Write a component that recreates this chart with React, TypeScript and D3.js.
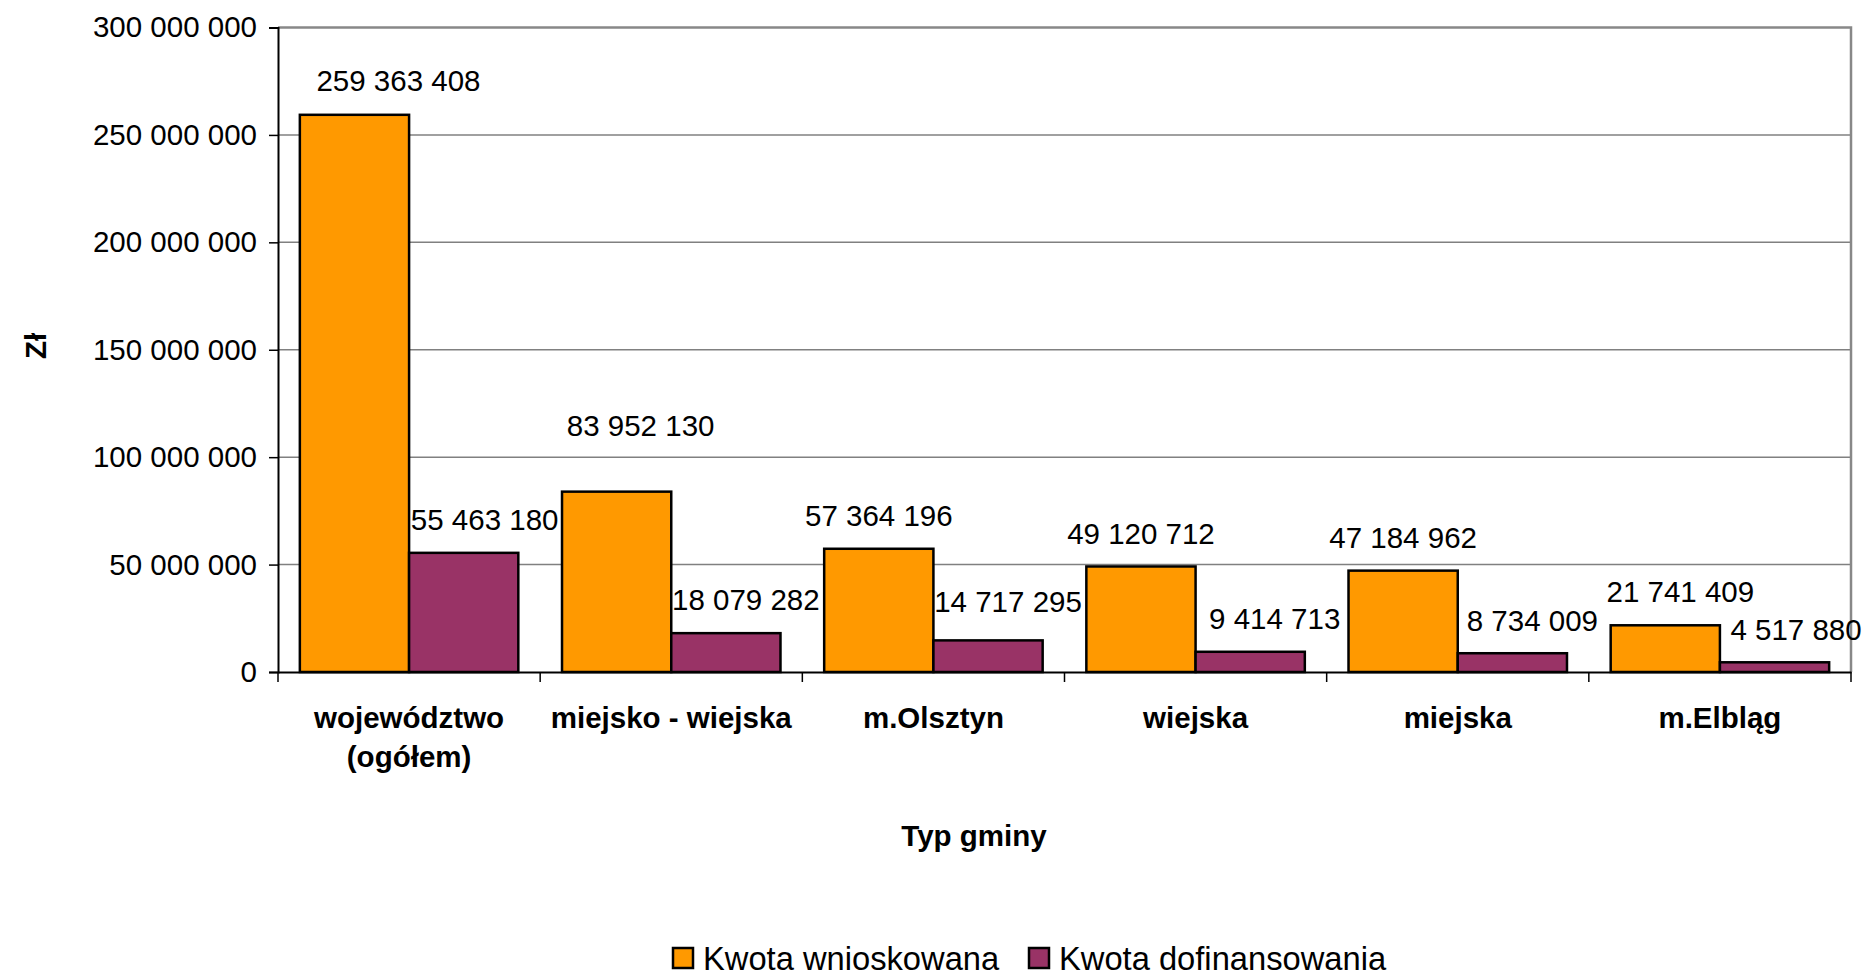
import React, { useEffect, useRef } from 'react';
import * as d3 from 'd3';

const categories = ['województwo\n(ogółem)', 'miejsko - wiejska', 'm.Olsztyn', 'wiejska', 'miejska', 'm.Elbląg'];
const requested = [259363408, 83952130, 57364196, 49120712, 47184962, 21741409];
const granted = [55463180, 18079282, 14717295, 9414713, 8734009, 4517880];
const seriesNames = ['Kwota wnioskowana', 'Kwota dofinansowania'];
const yTicks = [0, 50000000, 100000000, 150000000, 200000000, 250000000, 300000000];

// hand-moved labels in the original chart (dx, dy in px), key = category-series
const labelNudge: Record<string, [number, number]> = {
  '0-0': [44, -1],
  '1-0': [24, -33],
  '5-0': [15, -1],
  '0-1': [21, 0],
  '1-1': [20, -1],
  '2-1': [20, -6],
  '3-1': [24.5, 0],
  '4-1': [20, 0],
  '5-1': [21.5, 0],
};

const W = 1872;
const H = 976;
const font = '"Liberation Sans", Arial, sans-serif';

const fmt = (v: number) => d3.format(',')(v).replace(/,/g, ' ');

const App = () => {
  const ref = useRef<SVGSVGElement>(null);

  useEffect(() => {
    const svg = d3.select(ref.current).attr('width', W).attr('height', H);
    svg.selectAll('*').remove();

    const left = 278, right = 1851, top = 27.5, bottom = 672;

    const x = d3.scaleBand().domain(categories).range([left, right]).padding(0);
    // Excel gap width 40%: bar = band / 2.4
    const barW = x.bandwidth() / 2.4;
    const barX = (ci: number, si: number) => (x(categories[ci]) as number) + barW * 0.2 + si * barW;

    const y = d3.scaleLinear().domain([0, 300000000]).range([bottom, top]);

    // gridlines
    svg.append('g')
      .selectAll('line')
      .data(yTicks.slice(1, -1))
      .enter()
      .append('line')
      .attr('x1', left).attr('x2', right)
      .attr('y1', d => y(d)).attr('y2', d => y(d))
      .attr('stroke', '#808080').attr('stroke-width', 1.5);

    // plot border (top/right)
    svg.append('path')
      .attr('d', `M${left},${top}H${right}V${bottom}`)
      .attr('fill', 'none').attr('stroke', '#888').attr('stroke-width', 2.5);

    // bars
    const series = [requested, granted];
    const colors = ['#FF9900', '#993366'];
    series.forEach((vals, si) => {
      svg.append('g')
        .selectAll('rect')
        .data(vals)
        .enter()
        .append('rect')
        .attr('x', (d, i) => barX(i, si))
        .attr('y', d => y(d))
        .attr('width', barW)
        .attr('height', d => bottom - y(d))
        .attr('fill', colors[si])
        .attr('stroke', '#000')
        .attr('stroke-width', 2.5);
    });

    // value labels
    series.forEach((vals, si) => {
      svg.append('g')
        .selectAll('text')
        .data(vals)
        .enter()
        .append('text')
        .attr('x', (d, i) => barX(i, si) + barW / 2 + (labelNudge[`${i}-${si}`] || [0, 0])[0])
        .attr('y', (d, i) => y(d) - 22.5 + (labelNudge[`${i}-${si}`] || [0, 0])[1])
        .attr('text-anchor', 'middle')
        .style('font-family', font)
        .style('font-size', '29.5px')
        .text(d => fmt(d));
    });

    // y axis
    const yAxis = svg.append('g')
      .attr('transform', `translate(${left},0)`)
      .call(d3.axisLeft(y).tickValues(yTicks).tickSize(9).tickPadding(12).tickFormat(d => fmt(d as number)));
    yAxis.select('.domain').attr('stroke', '#000').attr('stroke-width', 2);
    yAxis.selectAll('.tick line').attr('stroke', '#000').attr('stroke-width', 1.5);
    yAxis.selectAll('text').style('font-family', font).style('font-size', '29.5px').attr('fill', '#000');

    // x axis
    const xAxis = svg.append('g')
      .attr('transform', `translate(0,${bottom})`)
      .call(d3.axisBottom(x).tickSize(0).tickFormat(() => ''));
    xAxis.select('.domain').attr('stroke', '#000').attr('stroke-width', 2);
    xAxis.selectAll('.tick').remove();
    xAxis.selectAll('line.sep')
      .data(d3.range(categories.length + 1))
      .enter()
      .append('line')
      .attr('class', 'sep')
      .attr('x1', i => left + i * x.bandwidth()).attr('x2', i => left + i * x.bandwidth())
      .attr('y1', 0).attr('y2', 10)
      .attr('stroke', '#000').attr('stroke-width', 1.5);

    // category labels
    const cat = svg.append('g')
      .selectAll('text')
      .data(categories)
      .enter()
      .append('text')
      .attr('x', d => (x(d) as number) + x.bandwidth() / 2)
      .attr('y', 728)
      .attr('text-anchor', 'middle')
      .style('font-family', font)
      .style('font-size', '29.5px')
      .style('font-weight', 'bold');
    cat.each(function (d) {
      d.split('\n').forEach((line, li) => {
        d3.select(this).append('tspan')
          .attr('x', (x(d) as number) + x.bandwidth() / 2)
          .attr('dy', li === 0 ? 0 : 38.5)
          .text(line);
      });
    });

    // axis titles
    svg.append('text')
      .attr('x', 974).attr('y', 846)
      .attr('text-anchor', 'middle')
      .style('font-family', font).style('font-size', '29.5px').style('font-weight', 'bold')
      .text('Typ gminy');

    svg.append('text')
      .attr('transform', 'translate(46,346) rotate(-90)')
      .attr('text-anchor', 'middle')
      .style('font-family', font).style('font-size', '29.5px').style('font-weight', 'bold')
      .text('Zł');

    // legend
    const legendX = [673, 1029];
    const lg = svg.append('g');
    seriesNames.forEach((name, i) => {
      lg.append('rect')
        .attr('x', legendX[i]).attr('y', 948)
        .attr('width', 20).attr('height', 20)
        .attr('fill', colors[i]).attr('stroke', '#000').attr('stroke-width', 2.5);
      lg.append('text')
        .attr('x', legendX[i] + 30).attr('y', 970)
        .style('font-family', font).style('font-size', '32.7px')
        .text(name);
    });
  }, []);

  return <svg ref={ref} style={{ display: 'block', margin: '-8px 0 0 -8px' }}></svg>;
};

export default App;
